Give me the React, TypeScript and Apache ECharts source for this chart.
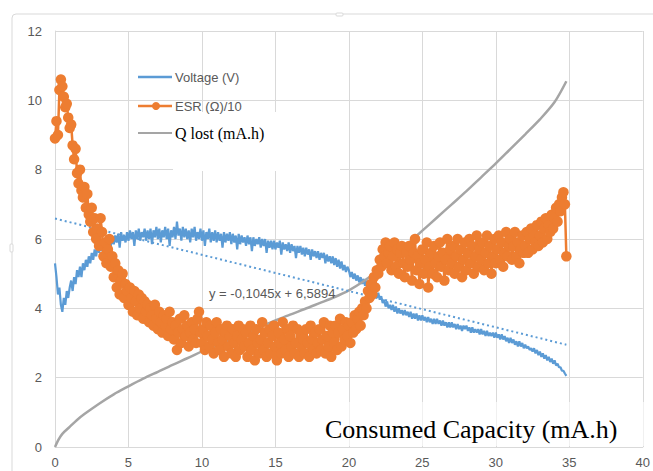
import React, { useEffect, useRef } from "react";
import * as echarts from "echarts";

// capacity sampling interval of the logged data (mA.h)
const STEP = 0.1;

// Voltage (V), one value per STEP from 0 to 34.8 mA.h (one row per mA.h)
const voltage = [
  5.3, 4.9, 4.4, 4.6, 4.1, 3.9, 4.3, 4.1, 4.5, 4.3,
  4.6, 4.8, 4.5, 4.9, 4.7, 5.1, 4.9, 5.2, 4.9, 5.3,
  5.1, 5.4, 5.2, 5.5, 5.3, 5.6, 5.4, 5.7, 5.5, 5.8,
  5.6, 5.85, 5.65, 5.9, 5.7, 5.95, 5.75, 6.0, 5.8, 6.05,
  5.85, 6.1, 5.9, 6.15, 5.75, 6.2, 5.95, 6.1, 5.9, 6.2,
  5.95, 6.25, 6.0, 6.2, 5.8, 6.25, 6.0, 6.3, 5.95, 6.2,
  6.05, 6.3, 5.95, 6.25, 6.0, 6.3, 5.85, 6.25, 6.05, 6.35,
  6.0, 6.3, 5.9, 6.25, 6.05, 6.35, 6.0, 6.3, 5.8, 6.25,
  6.05, 6.35, 6.0, 6.5, 6.1, 6.3, 5.95, 6.35, 6.05, 6.3,
  6.0, 6.25, 5.9, 6.3, 6.05, 6.35, 5.95, 6.2, 6.0, 6.3,
  5.95, 6.25, 5.8, 6.2, 6.0, 6.3, 5.9, 6.2, 5.95, 6.25,
  5.9, 6.2, 5.95, 6.15, 5.75, 6.2, 5.9, 6.15, 5.95, 6.2,
  5.85, 6.15, 5.9, 6.1, 5.7, 6.15, 5.85, 6.1, 5.9, 6.05,
  5.8, 6.1, 5.85, 6.05, 5.65, 6.05, 5.8, 6.0, 5.85, 6.05,
  5.75, 6.0, 5.8, 6.0, 5.6, 5.95, 5.75, 5.95, 5.7, 5.95,
  5.7, 5.9, 5.75, 5.95, 5.55, 5.9, 5.7, 5.85, 5.65, 5.9,
  5.6, 5.85, 5.65, 5.8, 5.45, 5.8, 5.6, 5.8, 5.55, 5.75,
  5.5, 5.75, 5.55, 5.7, 5.4, 5.7, 5.5, 5.65, 5.45, 5.65,
  5.4, 5.6, 5.45, 5.6, 5.3, 5.55, 5.35, 5.5, 5.3, 5.5,
  5.25, 5.45, 5.2, 5.4, 5.15, 5.35, 5.1, 5.25, 5.05, 5.2,
  5.1, 4.9, 5.05, 4.85, 5.0, 4.8, 4.95, 4.75, 4.9, 4.7,
  4.85, 4.65, 4.8, 4.55, 4.7, 4.45, 4.6, 4.4, 4.5, 4.3,
  4.45, 4.25, 4.35, 4.15, 4.25, 4.05, 4.2, 4.0, 4.1, 3.95,
  4.1, 3.9, 4.05, 3.85, 4.0, 3.85, 3.95, 3.8, 3.95, 3.8,
  3.9, 3.75, 3.9, 3.7, 3.85, 3.7, 3.85, 3.65, 3.8, 3.65,
  3.8, 3.65, 3.75, 3.6, 3.75, 3.6, 3.7, 3.55, 3.7, 3.55,
  3.7, 3.55, 3.65, 3.5, 3.65, 3.5, 3.6, 3.45, 3.6, 3.45,
  3.6, 3.45, 3.55, 3.4, 3.55, 3.4, 3.5, 3.35, 3.5, 3.4,
  3.5, 3.35, 3.45, 3.3, 3.45, 3.3, 3.4, 3.3, 3.4, 3.25,
  3.4, 3.25, 3.35, 3.2, 3.35, 3.2, 3.3, 3.2, 3.3, 3.15,
  3.3, 3.15, 3.25, 3.1, 3.25, 3.1, 3.2, 3.05, 3.15, 3.0,
  3.15, 3.0, 3.1, 2.95, 3.05, 2.9, 3.05, 2.9, 3.0, 2.85,
  2.95, 2.85, 2.9, 2.8, 2.85, 2.75, 2.85, 2.7, 2.8, 2.65,
  2.75, 2.6, 2.7, 2.55, 2.65, 2.5, 2.6, 2.45, 2.55, 2.4,
  2.5, 2.35, 2.4, 2.3, 2.3, 2.2, 2.2, 2.12, 2.05,
];

// ESR (Ω)/10, one value per STEP from 0 to 34.8 mA.h (one row per mA.h)
const esr = [
  8.9, 9.4, 9.0, 10.3, 10.6, 10.4, 10.1, 9.8, 9.9, 9.5,
  9.2, 9.3, 8.7, 8.3, 8.6, 7.9, 7.6, 8.0, 7.4, 7.2,
  7.5, 6.9, 7.3, 6.7, 6.5, 6.9, 6.2, 6.6, 6.0, 6.3,
  5.8, 6.6, 6.2, 5.5, 5.9, 5.3, 5.7, 6.0, 5.2, 5.5,
  4.9, 5.3, 4.6, 5.1, 4.4, 4.8, 5.0, 4.3, 4.7, 4.5,
  4.1, 4.6, 4.3, 3.9, 4.5, 4.2, 3.8, 4.4, 4.0, 4.3,
  3.7, 4.2, 3.9, 4.1, 3.6, 4.0, 3.8, 3.5, 4.1, 3.7,
  3.4, 3.9, 3.6, 3.3, 3.8, 3.5, 3.7, 3.2, 3.9, 3.4,
  3.6, 3.1, 3.5, 2.8, 3.3, 3.7, 3.0, 3.4, 3.8, 3.2,
  3.5, 2.9, 3.3, 3.6, 3.1, 3.4, 3.0, 3.7, 3.9, 3.3,
  3.0, 3.4, 2.8, 3.6, 3.2, 2.9, 3.5, 3.1, 2.7, 3.3,
  3.6, 3.0, 2.8, 3.4, 3.1, 2.6, 3.3, 3.5, 2.9, 3.2,
  2.7, 3.4, 3.0, 2.6, 3.2, 3.5, 2.8, 3.1, 3.4, 2.9,
  3.3, 2.6, 3.0, 3.5, 2.8, 3.2, 2.5, 3.4, 3.0, 2.7,
  3.1, 3.6, 2.8, 3.3, 2.6, 3.0, 3.4, 2.7, 3.2, 3.5,
  2.9, 2.5, 3.3, 3.0, 2.7, 3.6, 3.1, 2.8, 3.4, 2.6,
  3.2, 2.9, 3.5, 2.7, 3.0, 3.4, 2.6, 3.3, 2.9, 3.1,
  2.7, 3.4, 3.0, 2.6, 3.5, 3.1, 2.8, 3.3, 2.7, 3.0,
  3.4, 2.8, 3.1, 3.6, 2.7, 3.2, 2.9, 3.5, 2.6, 3.3,
  3.0, 3.5, 2.8, 3.3, 3.7, 2.9, 3.4, 3.1, 3.6, 3.2,
  3.5, 3.0, 3.6, 3.3, 3.8, 3.4, 3.7, 3.9, 3.5, 4.0,
  3.8, 4.2, 4.0, 4.5, 4.3, 4.7, 4.4, 4.9, 4.6, 5.1,
  5.0, 5.4, 5.2, 5.7, 5.5, 5.9, 5.3, 5.6, 5.8, 5.1,
  5.5, 5.9, 5.2, 5.7, 5.0, 5.6, 5.8, 5.3, 4.9, 5.6,
  5.2, 5.8, 5.4, 4.8, 5.6, 6.0, 5.1, 5.5, 4.7, 5.3,
  5.7, 5.0, 5.4, 5.9, 4.6, 5.2, 5.6, 5.0, 5.8, 5.3,
  4.9, 5.5, 5.9, 5.2, 5.6, 4.8, 5.4, 6.0, 5.1, 5.7,
  5.3, 5.8, 5.0, 5.5, 6.0, 5.2, 5.7, 4.9, 5.4, 5.9,
  5.1, 5.6, 6.0, 5.3, 5.8, 5.0, 5.5, 6.1, 5.2, 5.7,
  5.4, 5.9, 5.1, 5.6, 6.1, 5.3, 5.8, 5.0, 5.5, 6.0,
  5.3, 5.7, 6.1, 5.4, 5.9, 5.2, 5.6, 6.2, 5.5, 5.8,
  6.0, 5.4, 5.8, 6.2, 5.5, 5.9, 5.3, 5.7, 6.1, 5.6,
  5.8, 6.2, 5.6, 6.0, 6.3, 5.7, 6.1, 5.9, 6.4, 5.8,
  6.1, 6.5, 5.9, 6.3, 6.6, 6.0, 6.4, 6.2, 6.7, 6.3,
  6.6, 6.9, 6.5, 7.0, 6.8, 7.2, 7.35, 7.0, 5.5,
];

// Q lost (mA.h)
const qLostX = [0, 0.25, 0.5, 1, 1.5, 2, 3, 4, 5, 6, 7, 8, 9, 10, 11, 12, 13, 14, 15, 16, 17, 18, 19, 20, 21, 22, 23, 24, 25, 26, 27, 28, 29, 30, 31, 32, 33, 34, 34.8];
const qLostY = [0, 0.22, 0.38, 0.58, 0.78, 0.95, 1.25, 1.52, 1.75, 1.97, 2.17, 2.37, 2.56, 2.76, 2.95, 3.13, 3.3, 3.48, 3.65, 3.82, 3.98, 4.15, 4.32, 4.52, 4.78, 5.1, 5.48, 5.86, 6.24, 6.62, 7.0, 7.38, 7.78, 8.18, 8.6, 9.02, 9.45, 9.95, 10.55];

// linear trend of the voltage series
const trendX = [0, 34.8];
const trendY = [6.59, 2.95];
const trendLabel = "y = -0,1045x + 6,5894";

const seriesNames = ["Voltage (V)", "ESR (Ω)/10", "Q lost (mA.h)"];
const xAxisTitle = "Consumed Capacity (mA.h)";

const X_MIN = 0, X_MAX = 40, X_INTERVAL = 5;
const Y_MIN = 0, Y_MAX = 12, Y_INTERVAL = 2;

const BLUE = "#5b9bd5";
const ORANGE = "#ed7d31";
const GRAY = "#a5a5a5";
const GRID = "#d9d9d9";
const LABEL = "#595959";

export default function App() {
  const ref = useRef<HTMLDivElement>(null);

  useEffect(() => {
    if (!ref.current) return;
    const chart = echarts.init(ref.current, undefined, { renderer: "svg" });
    const toPairs = (ys: number[]) => ys.map((v, i) => [Number((i * STEP).toFixed(1)), v]);

    const legendRows = [
      { y: 77, color: BLUE, width: 2.5, dot: false, font: { fontSize: 13, fontFamily: "Liberation Sans", fill: LABEL } },
      { y: 106, color: ORANGE, width: 2.5, dot: true, font: { fontSize: 13, fontFamily: "Liberation Sans", fill: LABEL } },
      { y: 133, color: GRAY, width: 2, dot: false, font: { fontSize: 16, fontFamily: "Liberation Serif", fill: "#000000" } },
    ];
    const legendGraphics: any[] = [];
    legendRows.forEach((row, i) => {
      legendGraphics.push({
        type: "line",
        silent: true,
        z: 8,
        shape: { x1: 138, y1: row.y, x2: 172, y2: row.y },
        style: { stroke: row.color, lineWidth: row.width },
      });
      if (row.dot) {
        legendGraphics.push({
          type: "circle",
          silent: true,
          z: 9,
          shape: { cx: 156, cy: row.y, r: 4 },
          style: { fill: row.color },
        });
      }
      legendGraphics.push({
        type: "text",
        silent: true,
        z: 8,
        x: 175,
        y: row.y,
        style: { text: seriesNames[i], verticalAlign: "middle", ...row.font },
      });
    });

    chart.setOption({
      animation: false,
      backgroundColor: "#ffffff",
      grid: { left: 55, top: 31, right: 9, bottom: 24, containLabel: false },
      xAxis: {
        type: "value",
        min: X_MIN,
        max: X_MAX,
        interval: X_INTERVAL,
        axisLine: { show: true, lineStyle: { color: GRID, width: 1 } },
        axisTick: { show: false },
        axisLabel: { color: LABEL, fontSize: 13, fontFamily: "Liberation Sans", margin: 9 },
        splitLine: { show: true, lineStyle: { color: GRID, width: 1 } },
      },
      yAxis: {
        type: "value",
        min: Y_MIN,
        max: Y_MAX,
        interval: Y_INTERVAL,
        axisLine: { show: true, lineStyle: { color: GRID, width: 1 } },
        axisTick: { show: false },
        axisLabel: { color: LABEL, fontSize: 13, fontFamily: "Liberation Sans", margin: 13 },
        splitLine: { show: true, lineStyle: { color: GRID, width: 1 } },
      },
      series: [
        {
          name: seriesNames[0],
          type: "line",
          data: toPairs(voltage),
          symbol: "none",
          lineStyle: { color: BLUE, width: 2.2 },
          itemStyle: { color: BLUE },
        },
        {
          name: seriesNames[1],
          type: "line",
          data: toPairs(esr),
          symbol: "circle",
          symbolSize: 10.5,
          showAllSymbol: true,
          lineStyle: { color: ORANGE, width: 2.5 },
          itemStyle: { color: ORANGE },
        },
        {
          name: seriesNames[2],
          type: "line",
          data: qLostX.map((x, i) => [x, qLostY[i]]),
          symbol: "none",
          smooth: 0.3,
          lineStyle: { color: GRAY, width: 2.5 },
          itemStyle: { color: GRAY },
        },
        {
          name: "trend",
          type: "line",
          data: trendX.map((x, i) => [x, trendY[i]]),
          symbol: "none",
          lineStyle: { color: BLUE, width: 2, type: [2, 3] },
          itemStyle: { color: BLUE },
        },
      ],
      graphic: [
        {
          type: "rect",
          silent: true,
          z: 0,
          shape: { x: 12, y: 14, width: 700, height: 500, r: 4 },
          style: { fill: "none", stroke: GRID, lineWidth: 1 },
        },
        {
          type: "rect",
          silent: true,
          z: 1,
          shape: { x: 336, y: 13, width: 7, height: 3, r: 1 },
          style: { fill: "#ffffff", stroke: GRID, lineWidth: 1 },
        },
        {
          type: "rect",
          silent: true,
          z: 1,
          shape: { x: 10, y: 244, width: 3, height: 8, r: 1 },
          style: { fill: "#ffffff", stroke: GRID, lineWidth: 1 },
        },
        {
          type: "rect",
          silent: true,
          z: 1,
          shape: { x: 173, y: 112, width: 167, height: 59 },
          style: { fill: "#ffffff" },
        },
        {
          type: "rect",
          silent: true,
          z: 1,
          shape: { x: 305, y: 402, width: 343, height: 44 },
          style: { fill: "rgba(255,255,255,0.6)" },
        },
        ...legendGraphics,
        {
          type: "text",
          silent: true,
          z: 7,
          x: 325,
          y: 429,
          style: {
            text: xAxisTitle,
            fontSize: 26,
            fontFamily: "Liberation Serif",
            fill: "#000000",
            verticalAlign: "middle",
          },
        },
        {
          type: "text",
          silent: true,
          z: 7,
          x: 209,
          y: 293,
          style: {
            text: trendLabel,
            fontSize: 13,
            fontFamily: "Liberation Sans",
            fill: LABEL,
            verticalAlign: "middle",
          },
        },
      ],
    });

    return () => chart.dispose();
  }, []);

  return (
    <div
      ref={ref}
      style={{ position: "fixed", left: 0, top: 0, width: 653, height: 471, background: "#fff" }}
    />
  );
}
